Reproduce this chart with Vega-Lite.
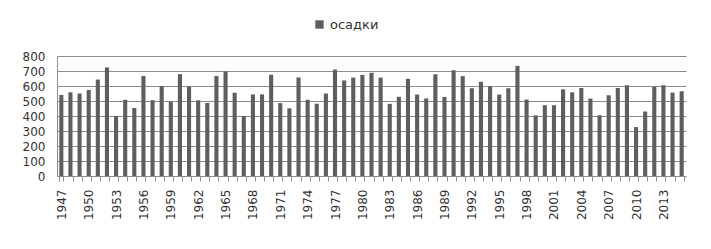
{
  "$schema": "https://vega.github.io/schema/vega-lite/v6.json",
  "width": 629,
  "height": 120,
  "autosize": {"type": "none"},
  "padding": {"left": 57, "top": 56, "right": 25, "bottom": 73},
  "background": "white",
  "data": {"values": [
    {"year": 1947, "value": 540}, {"year": 1948, "value": 558}, {"year": 1949, "value": 550},
    {"year": 1950, "value": 574}, {"year": 1951, "value": 643}, {"year": 1952, "value": 724},
    {"year": 1953, "value": 400}, {"year": 1954, "value": 508}, {"year": 1955, "value": 453},
    {"year": 1956, "value": 667}, {"year": 1957, "value": 505}, {"year": 1958, "value": 600},
    {"year": 1959, "value": 495}, {"year": 1960, "value": 679}, {"year": 1961, "value": 597},
    {"year": 1962, "value": 505}, {"year": 1963, "value": 487}, {"year": 1964, "value": 666},
    {"year": 1965, "value": 697}, {"year": 1966, "value": 555}, {"year": 1967, "value": 400},
    {"year": 1968, "value": 544}, {"year": 1969, "value": 544}, {"year": 1970, "value": 675},
    {"year": 1971, "value": 486}, {"year": 1972, "value": 451}, {"year": 1973, "value": 657},
    {"year": 1974, "value": 508}, {"year": 1975, "value": 482}, {"year": 1976, "value": 550},
    {"year": 1977, "value": 710}, {"year": 1978, "value": 637}, {"year": 1979, "value": 656},
    {"year": 1980, "value": 674}, {"year": 1981, "value": 688}, {"year": 1982, "value": 656},
    {"year": 1983, "value": 481}, {"year": 1984, "value": 528}, {"year": 1985, "value": 648},
    {"year": 1986, "value": 543}, {"year": 1987, "value": 517}, {"year": 1988, "value": 678},
    {"year": 1989, "value": 527}, {"year": 1990, "value": 705}, {"year": 1991, "value": 666},
    {"year": 1992, "value": 585}, {"year": 1993, "value": 628}, {"year": 1994, "value": 598},
    {"year": 1995, "value": 543}, {"year": 1996, "value": 585}, {"year": 1997, "value": 734},
    {"year": 1998, "value": 510}, {"year": 1999, "value": 404}, {"year": 2000, "value": 472},
    {"year": 2001, "value": 472}, {"year": 2002, "value": 578}, {"year": 2003, "value": 558},
    {"year": 2004, "value": 587}, {"year": 2005, "value": 516}, {"year": 2006, "value": 405},
    {"year": 2007, "value": 538}, {"year": 2008, "value": 587}, {"year": 2009, "value": 605},
    {"year": 2010, "value": 326}, {"year": 2011, "value": 430}, {"year": 2012, "value": 596},
    {"year": 2013, "value": 605}, {"year": 2014, "value": 556}, {"year": 2015, "value": 565}
  ]},
  "mark": {"type": "bar"},
  "encoding": {
    "x": {
      "field": "year",
      "type": "ordinal",
      "scale": {"paddingInner": 0.55, "paddingOuter": 0.25},
      "axis": {
        "title": null,
        "labelAngle": -90,
        "labelOverlap": false,
        "labelExpr": "(datum.value - 1947) % 3 == 0 ? datum.label : ''",
        "tickBand": "extent",
        "tickSize": 5,
        "tickColor": "#8c8c8c",
        "domainColor": "#8c8c8c",
        "labelPadding": 8,
        "labelFont": "DejaVu Sans",
        "labelFontSize": 12,
        "labelColor": "#333333",
        "grid": false
      }
    },
    "y": {
      "field": "value",
      "type": "quantitative",
      "scale": {"domain": [0, 800]},
      "axis": {
        "title": null,
        "values": [0, 100, 200, 300, 400, 500, 600, 700, 800],
        "ticks": false,
        "labelPadding": 12,
        "labelFont": "DejaVu Sans",
        "labelFontSize": 12,
        "labelColor": "#333333",
        "domainColor": "#8c8c8c",
        "gridColor": "#8c8c8c",
        "gridWidth": 1
      }
    },
    "color": {
      "datum": "осадки",
      "type": "nominal",
      "scale": {"range": ["#5e5e5e"]},
      "legend": {
        "title": null,
        "orient": "none",
        "legendX": 256,
        "legendY": -38,
        "symbolType": "square",
        "symbolSize": 70,
        "labelFont": "DejaVu Sans",
        "labelFontSize": 13,
        "labelColor": "#333333"
      }
    }
  },
  "config": {"view": {"stroke": null}}
}
